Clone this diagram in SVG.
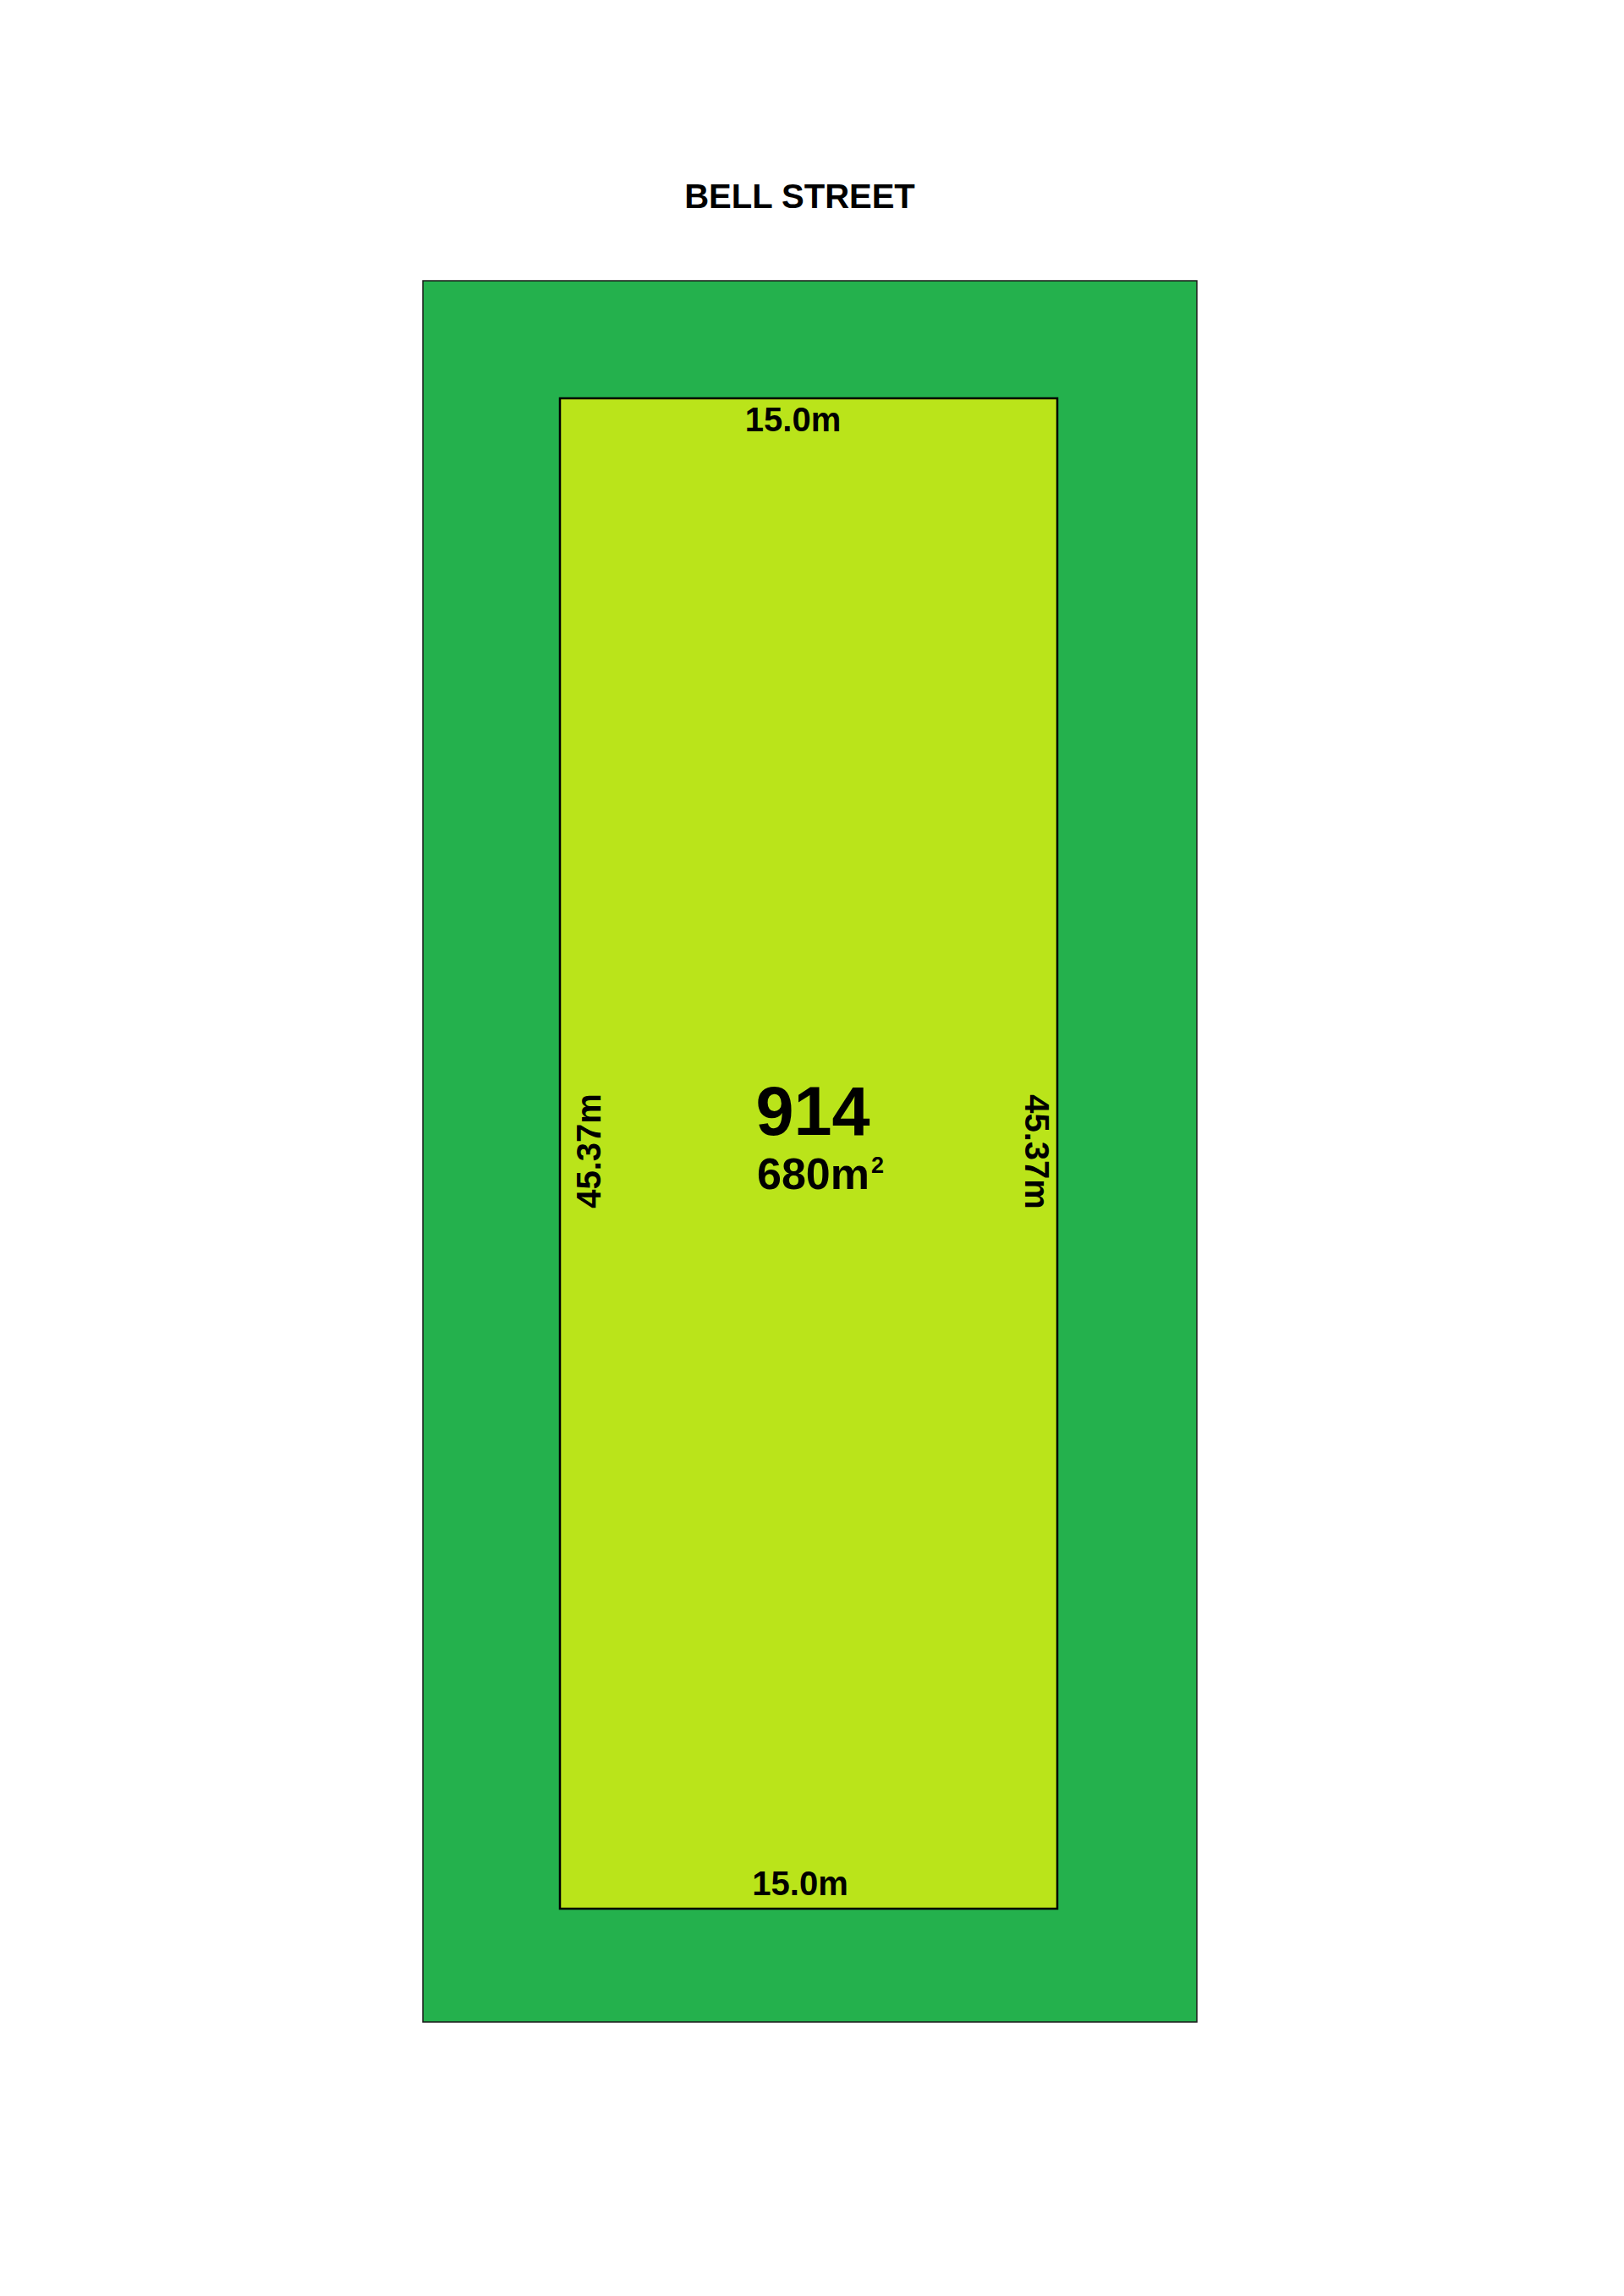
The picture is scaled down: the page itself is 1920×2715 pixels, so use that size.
<svg xmlns="http://www.w3.org/2000/svg" width="1920" height="2715" viewBox="0 0 1920 2715">
<style>
.t{font-family:"Liberation Sans",Arial,sans-serif;font-weight:bold;fill:#000;text-anchor:middle}
.s40{font-size:40px}
</style>
<rect x="0" y="0" width="1920" height="2715" fill="#ffffff"/>
<g id="road">
<rect x="500" y="332" width="915" height="2059" fill="#24B14D" stroke="#1a1a1a" stroke-width="1.5"/>
</g>
<g id="title">
<text class="t s40" x="945.5" y="246">BELL STREET</text>
</g>
<g id="lot914">
<rect x="662" y="471" width="588" height="1786" fill="#BAE41A" stroke="#000" stroke-width="2.5"/>
<text class="t s40" x="937.5" y="510">15.0m</text>
<text class="t s40" x="946" y="2241">15.0m</text>
<text class="t s40" transform="translate(710,1361) rotate(-90)" x="0" y="0">45.37m</text>
<text class="t s40" transform="translate(1212,1362) rotate(90)" x="0" y="0">45.37m</text>
<text class="t" style="font-size:81px" x="961" y="1342">914</text>
<text class="t" style="text-anchor:start;font-size:52px" x="895" y="1406">680m<tspan style="font-size:27px" dy="-19" dx="2">2</tspan></text>
</g>
</svg>
